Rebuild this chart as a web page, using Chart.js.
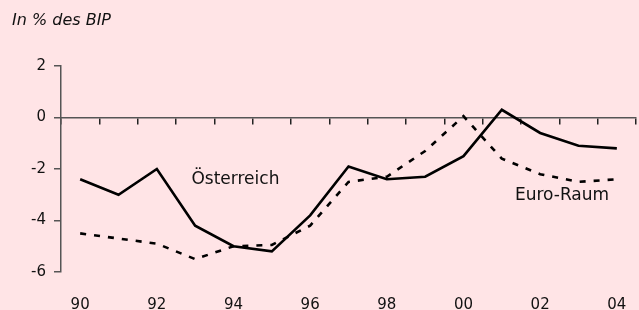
<!DOCTYPE html>
<html>
<head>
<meta charset="utf-8">
<script src="https://cdn.jsdelivr.net/npm/chart.js@4/dist/chart.umd.min.js"></script>
<style>
  html, body { margin: 0; padding: 0; background: #FFE4E6; }
  #wrap { width: 639px; height: 310px; position: relative; }
</style>
</head>
<body>
<div id="wrap"><canvas id="c" width="639" height="310"></canvas></div>
<script>
const years = ['90','91','92','93','94','95','96','97','98','99','00','01','02','03','04'];
const oesterreich = [-2.4, -3.0, -2.0, -4.2, -5.0, -5.2, -3.8, -1.9, -2.4, -2.3, -1.5, 0.3, -0.6, -1.1, -1.2];
const euroRaum = [-4.5, -4.7, -4.9, -5.5, -5.0, -4.95, -4.2, -2.5, -2.3, -1.3, 0.05, -1.6, -2.2, -2.5, -2.4];
const yTicks = [2, 0, -2, -4, -6];
const subtitle = 'In % des BIP';
const seriesNames = ['Österreich', 'Euro-Raum'];

const FONT = "'DejaVu Sans', sans-serif";
const BG = '#FFE4E6';

const bgPlugin = {
  id: 'bg',
  beforeDraw(chart) {
    const ctx = chart.ctx;
    ctx.save();
    ctx.fillStyle = BG;
    ctx.fillRect(0, 0, chart.width, chart.height);
    ctx.restore();
  }
};

const textPlugin = {
  id: 'texts',
  afterDraw(chart) {
    const ctx = chart.ctx;
    const xs = chart.scales.x, ys = chart.scales.y;
    ctx.save();
    ctx.fillStyle = '#111';
    ctx.textBaseline = 'middle';
    ctx.textAlign = 'left';
    ctx.font = 'italic 16px ' + FONT;
    ctx.fillText(subtitle, 12, 21);
    ctx.font = '17px ' + FONT;
    ctx.textAlign = 'center';
    ctx.fillText(seriesNames[0], xs.getPixelForValue(4.05), ys.getPixelForValue(-2.4));
    ctx.fillText(seriesNames[1], xs.getPixelForValue(12.57), ys.getPixelForValue(-3.05));
    ctx.restore();
  }
};

const noPad = (s) => { s.paddingLeft = 0; s.paddingRight = 0; s.paddingTop = 0; s.paddingBottom = 0; };

new Chart(document.getElementById('c'), {
  type: 'line',
  data: {
    labels: years,
    datasets: [
      { label: seriesNames[0], data: oesterreich, borderColor: '#000', borderWidth: 2.6,
        pointRadius: 0, tension: 0, fill: false },
      { label: seriesNames[1], data: euroRaum, borderColor: '#000', borderWidth: 2.6,
        borderDash: [6, 8], pointRadius: 0, tension: 0, fill: false }
    ]
  },
  options: {
    responsive: false,
    animation: false,
    layout: { padding: { top: 66, right: 3, left: 0, bottom: 0 } },
    plugins: { legend: { display: false }, title: { display: false }, tooltip: { enabled: false } },
    scales: {
      x: {
        type: 'category',
        position: { y: 0 },
        offset: true,
        grid: { offset: true, drawOnChartArea: false, drawTicks: true, tickLength: 6, color: '#222', lineWidth: 1.5 },
        border: { color: '#555', width: 1.5 },
        ticks: { display: false },
        afterFit: noPad
      },
      x2: {
        type: 'category',
        position: 'bottom',
        offset: true,
        grid: { display: false, drawTicks: false },
        border: { display: false },
        ticks: {
          autoSkip: false, maxRotation: 0, minRotation: 0, padding: 24,
          color: '#111', font: { family: FONT, size: 15 },
          callback: (v, i) => (i % 2 === 0 ? years[i] : '')
        },
        afterFit: (s) => { noPad(s); s.height = 38; }
      },
      y: {
        min: -6, max: 2,
        afterBuildTicks: (s) => { s.ticks = yTicks.map(v => ({ value: v })); },
        ticks: { padding: 8, color: '#111', font: { family: FONT, size: 15 } },
        grid: { drawOnChartArea: false, tickLength: 7, color: '#555', lineWidth: 1.5 },
        border: { color: '#555', width: 1.5 },
        afterFit: (s) => { noPad(s); s.width = 61; }
      }
    }
  },
  plugins: [bgPlugin, textPlugin]
});
</script>
</body>
</html>
